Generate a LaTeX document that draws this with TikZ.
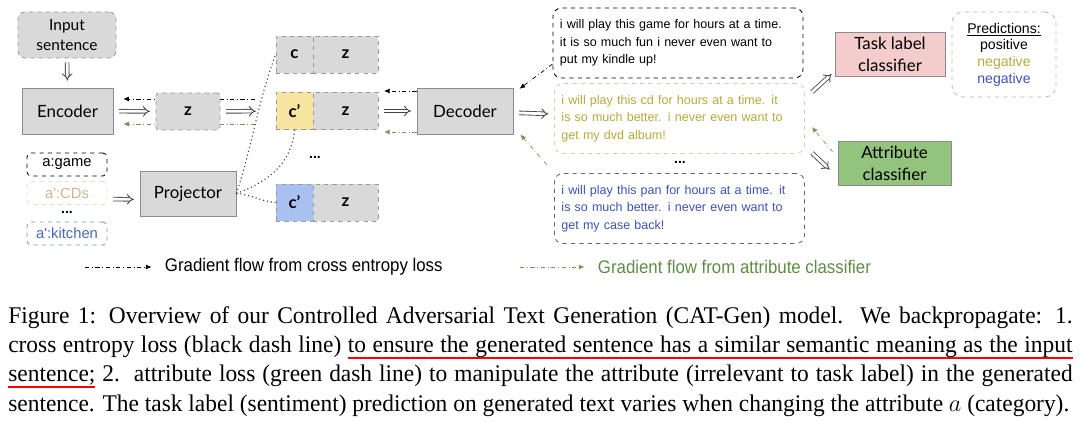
\documentclass[tikz,border=0pt]{standalone}
\usepackage{fontspec}
\usetikzlibrary{arrows.meta}
\setmainfont{Liberation Serif}
\newfontfamily\gillfont{Lato}
\newfontfamily\arialfont{Liberation Sans}
\newfontfamily\narrowfont{Liberation Sans}[FakeStretch=0.92]
\newfontfamily\capfont{Liberation Serif}[FakeStretch=0.98]

\definecolor{boxgray}{HTML}{D9D9D9}
\definecolor{modborder}{HTML}{8C8C8C}
\definecolor{vecborder}{HTML}{9A9A9A}
\definecolor{arrowgray}{HTML}{444444}
\definecolor{cyellow}{HTML}{F8E4A0}
\definecolor{cblue}{HTML}{A9C1F0}
\definecolor{taskpink}{HTML}{F4CCCC}
\definecolor{attrgreen}{HTML}{93C47D}
\definecolor{olivetext}{HTML}{B7A83E}
\definecolor{oliveborder}{HTML}{D3CDB0}
\definecolor{bluetext}{HTML}{3F51B5}
\definecolor{gradgreen}{HTML}{6D9B57}
\definecolor{legendgreen}{HTML}{5E8C45}
\definecolor{predborder}{HTML}{D9A9A9}
\definecolor{tantext}{HTML}{D2B48C}
\definecolor{tanborder}{HTML}{E6DCC0}
\definecolor{kitchenblue}{HTML}{4A67B5}
\definecolor{kitchenborder}{HTML}{7E8FC8}

% red underline, word by word, so that the spaces can still stretch
\newcommand\redword[1]{\setbox0\hbox{#1}\rlap{\textcolor{red}{\rule[-4.6pt]{\wd0}{1.4pt}}}\box0\relax}
\newcommand\redspace{{\color{red}\leaders\hrule height -3.2pt depth 4.6pt\hskip\fontdimen2\font plus\fontdimen3\font minus\fontdimen4\font}}
\def\redul#1{\redulA#1 \redulend}
\def\redulA#1 #2\redulend{\redword{#1}\ifx\relax#2\relax\else\redspace\redulA#2\redulend\fi}

\tikzset{
  module/.style={draw=modborder, fill=boxgray, line width=0.6pt, minimum height=1.15cm,
    align=center, font=\gillfont\fontsize{12}{15}\selectfont},
  inbox/.style={draw=vecborder, dashed, fill=boxgray, rounded corners=5pt, line width=0.6pt,
    minimum width=2.45cm, minimum height=1.15cm, align=center, font=\gillfont\fontsize{11}{14}\selectfont},
  vecbox/.style={draw=vecborder, dashed, fill=boxgray, line width=0.6pt, minimum height=0.925cm,
    inner sep=0pt, font=\gillfont\bfseries\fontsize{12}{14}\selectfont},
  sentbox/.style={dashed, rounded corners=6pt, line width=0.6pt, minimum width=6.25cm,
    minimum height=1.75cm, text width=5.9cm, inner xsep=0.175cm, align=left,
    font=\arialfont\fontsize{8.9}{12.5}\selectfont},
  attrbox/.style={dashed, rounded corners=3pt, line width=0.6pt, minimum width=2cm,
    minimum height=0.575cm, inner sep=0pt, font=\arialfont\fontsize{10.5}{12}\selectfont},
  dots/.style={font=\arialfont\bfseries\fontsize{10}{10}\selectfont, inner sep=0pt},
  fwd/.style={draw=arrowgray, double=white, double distance=2pt, line width=0.6pt, -{Implies},
    shorten <=4pt, shorten >=4pt},
  back/.style={dash dot, line width=0.5pt, -{Latex[length=4pt, width=3.5pt]}},
  backgreen/.style={back, draw=gradgreen},
  link/.style={dotted, line width=0.8pt, draw=black!75},
}

\begin{document}
\begin{tikzpicture}[x=0.025cm, y=-0.025cm]
	\useasboundingbox (0,0) rectangle (1080,422);

	% input and encoder
	\node[inbox] (input) at (67,35) {Input\\sentence};
	\node[module, minimum width=2.275cm] (enc) at (67.5,111) {Encoder};
	\coordinate (gtop) at (255,99);
	\coordinate (gbot) at (255,124);
	\draw[back, shorten >=7pt] (gtop) -- (enc.east |- gtop);
	\draw[backgreen, shorten >=7pt] (gbot) -- (enc.east |- gbot);
	\node[vecbox, rounded corners=2pt, minimum width=1.6cm] (z) at (188,111.5) {z};

	% attributes and projector
	\node[attrbox, draw=black] (a1) at (67,164.5) {a:game};
	\node[attrbox, draw=tanborder, text=tantext] (a2) at (67,193) {a':CDs};
	\node[dots] (dots3) at (67,212) {...};
	\node[attrbox, draw=kitchenborder, text=kitchenblue] (a3) at (67,233.5) {a':kitchen};
	\node[module, minimum width=2.4cm, minimum height=1.125cm] (proj) at (188,193.5) {Projector};

	% concatenated codes
	\node[vecbox, minimum width=0.925cm] (c1) at (294.5,54.5) {c};
	\node[vecbox, minimum width=1.625cm] (z1) at (345.5,54.5) {z};
	\node[vecbox, fill=cyellow, minimum width=0.925cm] (c2) at (294.5,111) {c’};
	\node[vecbox, minimum width=1.625cm] (z2) at (345.5,111) {z};
	\node[dots] (dots1) at (315,157) {...};
	\node[vecbox, fill=cblue, minimum width=0.925cm] (c3) at (294.5,202.5) {c’};
	\node[vecbox, minimum width=1.625cm] (z3) at (345.5,202.5) {z};

	% decoder
	\node[module, minimum width=2.4cm] (dec) at (465,111) {Decoder};

	% generated sentences
	\node[sentbox, draw=black] (s1) at (678,43)
		{i will play this game for hours at a time.\\it is so much fun i never even want to\\put my kindle up!};
	\node[sentbox, draw=oliveborder, text=olivetext] (s2) at (679.5,118.5)
		{i will play this cd for hours at a time. it\\is so much better. i never even want to\\get my dvd album!};
	\node[dots] (dots2) at (680,162) {...};
	\node[sentbox, draw=black!60, text=bluetext] (s3) at (679.5,208.5)
		{i will play this pan for hours at a time. it\\is so much better. i never even want to\\get my case back!};

	% classifiers
	\node[module, fill=taskpink, minimum width=2.75cm, minimum height=1.075cm,
		font=\gillfont\fontsize{12}{16}\selectfont] (task) at (890,54.5) {Task label\\classifier};
	\node[module, fill=attrgreen, minimum width=2.825cm, minimum height=1.075cm,
		font=\gillfont\fontsize{12}{16}\selectfont] (attr) at (894.5,163.5) {Attribute\\classifier};
	\node[draw=predborder, dashed, rounded corners=8pt, line width=0.6pt, minimum width=2.6cm,
		minimum height=2.125cm, align=center, font=\arialfont\fontsize{10}{11.8}\selectfont] (pred) at (1004,54.5)
		{\underline{Predictions:}\\positive\\\textcolor{olivetext}{negative}\\\textcolor{bluetext}{negative}};

	% forward flow
	\draw[fwd, shorten <=3pt, shorten >=5pt] (input) -- (enc);
	\draw[fwd] (enc) -- (z);
	\draw[fwd, shorten >=14pt] (z) -- (c2);
	\draw[fwd] ([yshift=-0.15cm]a2.east) -- ([yshift=-0.15cm]proj.west);
	\draw[fwd] (z2) -- (dec);
	\draw[fwd] (dec) -- (s2);
	\draw[fwd, shorten <=0pt, shorten >=0pt] ([shift={(7,9)}]s2.north east) -- ([shift={(-3,-3)}]task.south west);
	\draw[fwd, shorten <=0pt, shorten >=0pt] ([shift={(7,-1)}]s2.south east) -- ([shift={(-8,6)}]attr.west);

	% projector links
	\draw[link] (proj.east) to[out=72, in=-110] (c1.west);
	\draw[link] (proj.east) to[out=20, in=-95] (c2.south);
	\draw[link] (proj.east) to[out=-5, in=175] (c3.west);

	% gradient flow
	\coordinate (dtop) at (0,91);
	\coordinate (dbot) at (0,132);
	\coordinate (s1src) at (0,64);
	\draw[back, shorten >=4pt] (dec.west |- dtop) -- (z2.east |- dtop);
	\draw[backgreen, shorten >=4pt] (dec.west |- dbot) -- (z2.east |- dbot);
	\draw[back, shorten >=1pt] (s1.west |- s1src) -- ([shift={(5,2)}]dec.north east);
	\draw[backgreen, shorten <=8pt, shorten >=1pt] (s3.north west) -- ([shift={(6,-1)}]dec.south east);
	\draw[backgreen] ([shift={(-5,11)}]attr.north west) -- ([shift={(7,8.5)}]s2.east);

	% legend
	\node[anchor=west, font=\narrowfont\fontsize{13}{15}\selectfont] (leg1) at (160,267) {Gradient flow from cross entropy loss};
	\node[anchor=west, text=legendgreen, font=\narrowfont\fontsize{13}{15}\selectfont] (leg2) at (593,267) {Gradient flow from attribute classifier};
	\coordinate (l1) at (85,267);
	\coordinate (l2) at (520,267);
	\draw[back, shorten >=6pt] (l1) -- (leg1.west);
	\draw[backgreen, shorten >=6pt] (l2) -- (leg2.west);

	% caption
	\node[anchor=north west, inner sep=0pt, text width=26.6cm, align=justify,
		font=\capfont\fontsize{17}{20.9}\selectfont] (caption) at (8,306)
		{Figure 1: Overview of our Controlled Adversarial Text Generation (CAT-Gen) model.\ \ We backpropagate: 1.\linebreak
		cross entropy loss (black dash line) \redul{to ensure the generated sentence has a similar semantic meaning as the input}\linebreak
		\redul{sentence;} 2.\ \ attribute loss (green dash line) to manipulate the attribute (irrelevant to task label) in the generated\linebreak
		sentence. The task label (sentiment) prediction on generated text varies when changing the attribute $a$ (category).};
\end{tikzpicture}
\end{document}
